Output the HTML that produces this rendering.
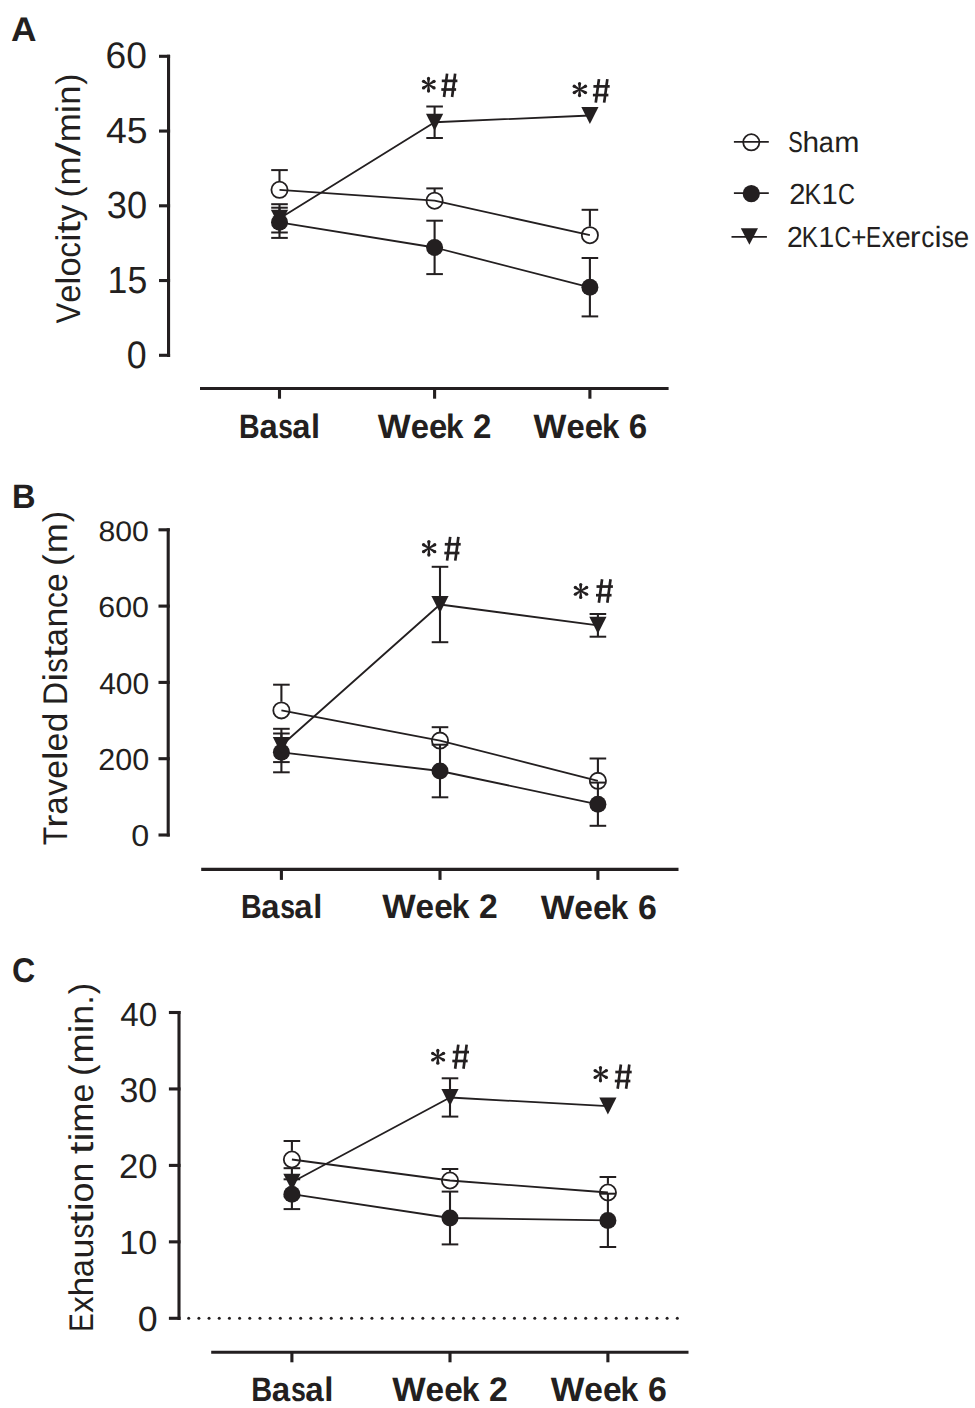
<!DOCTYPE html>
<html><head><meta charset="utf-8"><title>Figure</title>
<style>
html,body{margin:0;padding:0;background:#fff;}
body{width:975px;height:1408px;overflow:hidden;}
svg{display:block;}
text{font-family:"Liberation Sans",sans-serif;font-size:100px;fill:#231f20;stroke:none;font-kerning:none;text-rendering:geometricPrecision;}
</style></head>
<body>
<svg width="975" height="1408" viewBox="0 0 975 1408" stroke="#231f20" fill="none">
<rect x="0" y="0" width="975" height="1408" fill="#fff" stroke="none"/>
<text transform="matrix(0.35326 0 0 0.34158 11.12 40.80)" font-weight="bold">A</text>
<text transform="matrix(0.32630 0 0 0.34012 12.12 507.60)" font-weight="bold">B</text>
<text transform="matrix(0.32119 0 0 0.34322 11.88 981.96)" font-weight="bold">C</text>
<line x1="168.55" y1="54.70" x2="168.55" y2="356.90" stroke-width="3.10"/>
<line x1="159.00" y1="56.30" x2="170.10" y2="56.30" stroke-width="3.10"/>
<line x1="159.00" y1="131.05" x2="170.10" y2="131.05" stroke-width="3.10"/>
<line x1="159.00" y1="205.80" x2="170.10" y2="205.80" stroke-width="3.10"/>
<line x1="159.00" y1="280.55" x2="170.10" y2="280.55" stroke-width="3.10"/>
<line x1="159.00" y1="355.30" x2="170.10" y2="355.30" stroke-width="3.10"/>
<text transform="matrix(0.37165 0 0 0.37005 105.61 68.44)">60</text>
<text transform="matrix(0.37427 0 0 0.36546 105.94 143.04)">45</text>
<text transform="matrix(0.36226 0 0 0.37853 106.82 217.93)">30</text>
<text transform="matrix(0.35609 0 0 0.37836 107.59 292.53)">15</text>
<text transform="matrix(0.35772 0 0 0.38135 126.80 368.13)">0</text>
<text transform="matrix(0 -0.30956 0.34158 0 80.10 323.54)">V</text><text transform="matrix(0 -0.32607 0.34158 0 80.10 302.86)">e</text><text transform="matrix(0 -0.37699 0.34158 0 80.10 284.76)">l</text><text transform="matrix(0 -0.34506 0.34158 0 80.10 276.38)">o</text><text transform="matrix(0 -0.30807 0.34158 0 80.10 257.44)">c</text><text transform="matrix(0 -0.37699 0.34158 0 80.10 241.78)">i</text><text transform="matrix(0 -0.43908 0.34158 0 80.10 233.58)">t</text><text transform="matrix(0 -0.32992 0.34158 0 80.10 221.22)">y</text><text transform="matrix(0 -0.33134 0.34158 0 80.10 197.41)">(</text><text transform="matrix(0 -0.34928 0.34158 0 80.10 185.46)">m</text><text transform="matrix(0 -0.50592 0.34158 0 80.10 156.35)">/</text><text transform="matrix(0 -0.34928 0.34158 0 80.10 142.31)">m</text><text transform="matrix(0 -0.37699 0.34158 0 80.10 113.19)">i</text><text transform="matrix(0 -0.34375 0.34158 0 80.10 104.85)">n</text><text transform="matrix(0 -0.33134 0.34158 0 80.10 84.78)">)</text>
<line x1="200.00" y1="388.50" x2="668.60" y2="388.50" stroke-width="3.10"/>
<line x1="279.50" y1="388.50" x2="279.50" y2="398.70" stroke-width="3.10"/>
<line x1="434.60" y1="388.50" x2="434.60" y2="398.70" stroke-width="3.10"/>
<line x1="589.90" y1="388.50" x2="589.90" y2="398.70" stroke-width="3.10"/>
<text transform="matrix(0.28571 0 0 0.34012 239.09 438.20)" font-weight="bold">B</text><text transform="matrix(0.32669 0 0 0.34012 259.45 438.20)" font-weight="bold">a</text><text transform="matrix(0.26387 0 0 0.34012 278.28 438.20)" font-weight="bold">s</text><text transform="matrix(0.32669 0 0 0.34012 292.29 438.20)" font-weight="bold">a</text><text transform="matrix(0.32566 0 0 0.34012 311.06 438.20)" font-weight="bold">l</text>
<text transform="matrix(0.34823 0 0 0.34012 377.87 437.90)" font-weight="bold">W</text><text transform="matrix(0.32811 0 0 0.34012 410.65 437.90)" font-weight="bold">e</text><text transform="matrix(0.32811 0 0 0.34012 428.90 437.90)" font-weight="bold">e</text><text transform="matrix(0.31311 0 0 0.34012 446.12 437.90)" font-weight="bold">k</text><text transform="matrix(0.33072 0 0 0.34012 472.93 437.90)" font-weight="bold">2</text>
<text transform="matrix(0.34876 0 0 0.34012 533.57 438.00)" font-weight="bold">W</text><text transform="matrix(0.32860 0 0 0.34012 566.40 438.00)" font-weight="bold">e</text><text transform="matrix(0.32860 0 0 0.34012 584.68 438.00)" font-weight="bold">e</text><text transform="matrix(0.31358 0 0 0.34012 601.92 438.00)" font-weight="bold">k</text><text transform="matrix(0.33121 0 0 0.34012 628.68 438.00)" font-weight="bold">6</text>
<line x1="279.50" y1="181.10" x2="279.50" y2="170.10" stroke-width="2.10"/>
<line x1="271.20" y1="170.10" x2="287.80" y2="170.10" stroke-width="2.00"/>
<line x1="434.60" y1="192.00" x2="434.60" y2="188.40" stroke-width="2.10"/>
<line x1="426.30" y1="188.40" x2="442.90" y2="188.40" stroke-width="2.00"/>
<line x1="589.90" y1="226.50" x2="589.90" y2="209.80" stroke-width="2.10"/>
<line x1="581.60" y1="209.80" x2="598.20" y2="209.80" stroke-width="2.00"/>
<line x1="279.50" y1="222.30" x2="279.50" y2="207.70" stroke-width="2.10"/>
<line x1="271.20" y1="207.70" x2="287.80" y2="207.70" stroke-width="2.00"/>
<line x1="279.50" y1="222.30" x2="279.50" y2="237.90" stroke-width="2.10"/>
<line x1="271.20" y1="237.90" x2="287.80" y2="237.90" stroke-width="2.00"/>
<line x1="434.60" y1="247.50" x2="434.60" y2="220.70" stroke-width="2.10"/>
<line x1="426.30" y1="220.70" x2="442.90" y2="220.70" stroke-width="2.00"/>
<line x1="434.60" y1="247.50" x2="434.60" y2="274.10" stroke-width="2.10"/>
<line x1="426.30" y1="274.10" x2="442.90" y2="274.10" stroke-width="2.00"/>
<line x1="589.90" y1="287.30" x2="589.90" y2="258.00" stroke-width="2.10"/>
<line x1="581.60" y1="258.00" x2="598.20" y2="258.00" stroke-width="2.00"/>
<line x1="589.90" y1="287.30" x2="589.90" y2="316.40" stroke-width="2.10"/>
<line x1="581.60" y1="316.40" x2="598.20" y2="316.40" stroke-width="2.00"/>
<line x1="279.50" y1="218.40" x2="279.50" y2="204.20" stroke-width="2.10"/>
<line x1="271.20" y1="204.20" x2="287.80" y2="204.20" stroke-width="2.00"/>
<line x1="279.50" y1="218.40" x2="279.50" y2="232.50" stroke-width="2.10"/>
<line x1="271.20" y1="232.50" x2="287.80" y2="232.50" stroke-width="2.00"/>
<line x1="434.60" y1="122.25" x2="434.60" y2="106.50" stroke-width="2.10"/>
<line x1="426.30" y1="106.50" x2="442.90" y2="106.50" stroke-width="2.00"/>
<line x1="434.60" y1="122.25" x2="434.60" y2="138.00" stroke-width="2.10"/>
<line x1="426.30" y1="138.00" x2="442.90" y2="138.00" stroke-width="2.00"/>
<polyline points="279.50,189.80 434.60,200.70 589.90,235.20" fill="none" stroke-width="1.80" stroke-linejoin="round"/>
<polyline points="279.50,222.30 434.60,247.50 589.90,287.30" fill="none" stroke-width="1.80" stroke-linejoin="round"/>
<polyline points="279.50,218.40 434.60,122.25 589.90,115.50" fill="none" stroke-width="1.80" stroke-linejoin="round"/>
<circle cx="279.50" cy="189.80" r="8.10" fill="none" stroke-width="1.80"/>
<circle cx="434.60" cy="200.70" r="8.10" fill="none" stroke-width="1.80"/>
<circle cx="589.90" cy="235.20" r="8.10" fill="none" stroke-width="1.80"/>
<circle cx="279.50" cy="222.30" r="8.50" fill="#231f20" stroke="none"/>
<circle cx="434.60" cy="247.50" r="8.50" fill="#231f20" stroke="none"/>
<circle cx="589.90" cy="287.30" r="8.50" fill="#231f20" stroke="none"/>
<polygon points="270.90,209.80 288.10,209.80 279.50,226.80" fill="#231f20" stroke="none"/>
<polygon points="426.00,113.65 443.20,113.65 434.60,130.65" fill="#231f20" stroke="none"/>
<polygon points="581.30,106.90 598.50,106.90 589.90,123.90" fill="#231f20" stroke="none"/>
<polygon points="429.27,84.60 430.02,78.40 427.02,78.40 427.77,84.60" fill="#231f20" stroke="none"/><circle cx="428.52" cy="78.40" r="1.60" fill="#231f20" stroke="none"/><polygon points="427.77,84.60 427.02,91.10 430.02,91.10 429.27,84.60" fill="#231f20" stroke="none"/><circle cx="428.52" cy="91.10" r="1.60" fill="#231f20" stroke="none"/><polygon points="428.94,83.97 424.33,80.03 422.67,82.53 428.11,85.22" fill="#231f20" stroke="none"/><circle cx="423.50" cy="81.28" r="1.60" fill="#231f20" stroke="none"/><polygon points="428.14,85.24 433.33,89.21 434.87,86.63 428.91,83.95" fill="#231f20" stroke="none"/><circle cx="434.10" cy="87.92" r="1.60" fill="#231f20" stroke="none"/><polygon points="428.91,85.24 434.87,82.57 433.33,79.99 428.14,83.95" fill="#231f20" stroke="none"/><circle cx="434.10" cy="81.28" r="1.60" fill="#231f20" stroke="none"/><polygon points="428.11,83.97 422.67,86.67 424.33,89.17 428.94,85.22" fill="#231f20" stroke="none"/><circle cx="423.50" cy="87.92" r="1.60" fill="#231f20" stroke="none"/>
<line x1="447.10" y1="73.60" x2="444.04" y2="97.00" stroke-width="2.70"/><line x1="455.15" y1="73.60" x2="452.09" y2="97.00" stroke-width="2.70"/><line x1="441.78" y1="80.85" x2="457.40" y2="80.85" stroke-width="2.70"/><line x1="441.30" y1="89.51" x2="456.11" y2="89.51" stroke-width="2.70"/>
<polygon points="580.31,89.41 581.06,83.50 578.06,83.50 578.81,89.41" fill="#231f20" stroke="none"/><circle cx="579.56" cy="83.50" r="1.60" fill="#231f20" stroke="none"/><polygon points="578.81,89.41 578.06,95.60 581.06,95.60 580.31,89.41" fill="#231f20" stroke="none"/><circle cx="579.56" cy="95.60" r="1.60" fill="#231f20" stroke="none"/><polygon points="579.94,88.76 574.97,84.93 573.43,87.50 579.18,90.05" fill="#231f20" stroke="none"/><circle cx="574.20" cy="86.22" r="1.60" fill="#231f20" stroke="none"/><polygon points="579.21,90.07 584.79,93.92 586.21,91.27 579.91,88.74" fill="#231f20" stroke="none"/><circle cx="585.50" cy="92.59" r="1.60" fill="#231f20" stroke="none"/><polygon points="579.91,90.07 586.21,87.54 584.79,84.89 579.21,88.74" fill="#231f20" stroke="none"/><circle cx="585.50" cy="86.22" r="1.60" fill="#231f20" stroke="none"/><polygon points="579.18,88.76 573.43,91.31 574.97,93.88 579.94,90.05" fill="#231f20" stroke="none"/><circle cx="574.20" cy="92.59" r="1.60" fill="#231f20" stroke="none"/>
<line x1="598.95" y1="79.10" x2="595.76" y2="102.60" stroke-width="2.70"/><line x1="607.35" y1="79.10" x2="604.16" y2="102.60" stroke-width="2.70"/><line x1="593.40" y1="86.38" x2="609.70" y2="86.38" stroke-width="2.70"/><line x1="592.90" y1="95.08" x2="608.36" y2="95.08" stroke-width="2.70"/>
<line x1="168.20" y1="528.20" x2="168.20" y2="836.60" stroke-width="3.10"/>
<line x1="158.50" y1="529.80" x2="169.75" y2="529.80" stroke-width="3.10"/>
<line x1="158.50" y1="606.10" x2="169.75" y2="606.10" stroke-width="3.10"/>
<line x1="158.50" y1="682.40" x2="169.75" y2="682.40" stroke-width="3.10"/>
<line x1="158.50" y1="758.70" x2="169.75" y2="758.70" stroke-width="3.10"/>
<line x1="158.50" y1="835.00" x2="169.75" y2="835.00" stroke-width="3.10"/>
<text transform="matrix(0.30140 0 0 0.28390 98.59 541.12)">800</text>
<text transform="matrix(0.30280 0 0 0.28954 98.36 617.42)">600</text>
<text transform="matrix(0.29942 0 0 0.30084 99.21 693.81)">400</text>
<text transform="matrix(0.30460 0 0 0.30508 98.37 769.70)">200</text>
<text transform="matrix(0.32216 0 0 0.30226 131.34 846.10)">0</text>
<text transform="matrix(0 -0.29949 0.34158 0 67.20 845.17)">T</text><text transform="matrix(0 -0.39369 0.34158 0 67.20 827.87)">r</text><text transform="matrix(0 -0.32354 0.34158 0 67.20 814.46)">a</text><text transform="matrix(0 -0.33959 0.34158 0 67.20 795.78)">v</text><text transform="matrix(0 -0.33637 0.34158 0 67.20 778.77)">e</text><text transform="matrix(0 -0.38889 0.34158 0 67.20 760.10)">l</text><text transform="matrix(0 -0.33637 0.34158 0 67.20 751.42)">e</text><text transform="matrix(0 -0.35461 0.34158 0 67.20 732.35)">d</text><text transform="matrix(0 -0.31991 0.34158 0 67.20 705.08)">D</text><text transform="matrix(0 -0.38889 0.34158 0 67.20 681.42)">i</text><text transform="matrix(0 -0.29376 0.34158 0 67.20 672.67)">s</text><text transform="matrix(0 -0.45295 0.34158 0 67.20 658.28)">t</text><text transform="matrix(0 -0.32354 0.34158 0 67.20 646.21)">a</text><text transform="matrix(0 -0.35461 0.34158 0 67.20 627.55)">n</text><text transform="matrix(0 -0.31780 0.34158 0 67.20 608.06)">c</text><text transform="matrix(0 -0.33637 0.34158 0 67.20 591.88)">e</text><text transform="matrix(0 -0.34180 0.34158 0 67.20 565.68)">(</text><text transform="matrix(0 -0.36031 0.34158 0 67.20 553.35)">m</text><text transform="matrix(0 -0.34180 0.34158 0 67.20 522.36)">)</text>
<line x1="201.20" y1="869.40" x2="678.50" y2="869.40" stroke-width="3.10"/>
<line x1="281.40" y1="869.40" x2="281.40" y2="879.90" stroke-width="3.10"/>
<line x1="440.00" y1="869.40" x2="440.00" y2="879.90" stroke-width="3.10"/>
<line x1="597.90" y1="869.40" x2="597.90" y2="879.90" stroke-width="3.10"/>
<text transform="matrix(0.28720 0 0 0.33431 240.88 918.20)" font-weight="bold">B</text><text transform="matrix(0.32839 0 0 0.33431 261.34 918.20)" font-weight="bold">a</text><text transform="matrix(0.26524 0 0 0.33431 280.27 918.20)" font-weight="bold">s</text><text transform="matrix(0.32839 0 0 0.33431 294.36 918.20)" font-weight="bold">a</text><text transform="matrix(0.32735 0 0 0.33431 313.22 918.20)" font-weight="bold">l</text>
<text transform="matrix(0.35476 0 0 0.34012 382.17 918.20)" font-weight="bold">W</text><text transform="matrix(0.33426 0 0 0.34012 415.57 918.20)" font-weight="bold">e</text><text transform="matrix(0.33426 0 0 0.34012 434.16 918.20)" font-weight="bold">e</text><text transform="matrix(0.31897 0 0 0.34012 451.70 918.20)" font-weight="bold">k</text><text transform="matrix(0.33692 0 0 0.34012 479.01 918.20)" font-weight="bold">2</text>
<text transform="matrix(0.35652 0 0 0.34012 540.67 918.60)" font-weight="bold">W</text><text transform="matrix(0.33592 0 0 0.34012 574.23 918.60)" font-weight="bold">e</text><text transform="matrix(0.33592 0 0 0.34012 592.92 918.60)" font-weight="bold">e</text><text transform="matrix(0.32056 0 0 0.34012 610.54 918.60)" font-weight="bold">k</text><text transform="matrix(0.33859 0 0 0.34012 637.89 918.60)" font-weight="bold">6</text>
<line x1="281.40" y1="701.70" x2="281.40" y2="684.70" stroke-width="2.10"/>
<line x1="273.10" y1="684.70" x2="289.70" y2="684.70" stroke-width="2.00"/>
<line x1="440.00" y1="731.90" x2="440.00" y2="727.20" stroke-width="2.10"/>
<line x1="431.70" y1="727.20" x2="448.30" y2="727.20" stroke-width="2.00"/>
<line x1="597.90" y1="772.15" x2="597.90" y2="758.50" stroke-width="2.10"/>
<line x1="589.60" y1="758.50" x2="606.20" y2="758.50" stroke-width="2.00"/>
<line x1="281.40" y1="752.30" x2="281.40" y2="733.50" stroke-width="2.10"/>
<line x1="273.10" y1="733.50" x2="289.70" y2="733.50" stroke-width="2.00"/>
<line x1="281.40" y1="752.30" x2="281.40" y2="772.30" stroke-width="2.10"/>
<line x1="273.10" y1="772.30" x2="289.70" y2="772.30" stroke-width="2.00"/>
<line x1="440.00" y1="771.00" x2="440.00" y2="744.70" stroke-width="2.10"/>
<line x1="431.70" y1="744.70" x2="448.30" y2="744.70" stroke-width="2.00"/>
<line x1="440.00" y1="771.00" x2="440.00" y2="797.30" stroke-width="2.10"/>
<line x1="431.70" y1="797.30" x2="448.30" y2="797.30" stroke-width="2.00"/>
<line x1="597.90" y1="804.30" x2="597.90" y2="782.60" stroke-width="2.10"/>
<line x1="589.60" y1="782.60" x2="606.20" y2="782.60" stroke-width="2.00"/>
<line x1="597.90" y1="804.30" x2="597.90" y2="825.80" stroke-width="2.10"/>
<line x1="589.60" y1="825.80" x2="606.20" y2="825.80" stroke-width="2.00"/>
<line x1="281.40" y1="745.50" x2="281.40" y2="728.80" stroke-width="2.10"/>
<line x1="273.10" y1="728.80" x2="289.70" y2="728.80" stroke-width="2.00"/>
<line x1="281.40" y1="745.50" x2="281.40" y2="762.10" stroke-width="2.10"/>
<line x1="273.10" y1="762.10" x2="289.70" y2="762.10" stroke-width="2.00"/>
<line x1="440.00" y1="604.50" x2="440.00" y2="566.80" stroke-width="2.10"/>
<line x1="431.70" y1="566.80" x2="448.30" y2="566.80" stroke-width="2.00"/>
<line x1="440.00" y1="604.50" x2="440.00" y2="642.20" stroke-width="2.10"/>
<line x1="431.70" y1="642.20" x2="448.30" y2="642.20" stroke-width="2.00"/>
<line x1="597.90" y1="625.35" x2="597.90" y2="614.00" stroke-width="2.10"/>
<line x1="589.60" y1="614.00" x2="606.20" y2="614.00" stroke-width="2.00"/>
<line x1="597.90" y1="625.35" x2="597.90" y2="636.70" stroke-width="2.10"/>
<line x1="589.60" y1="636.70" x2="606.20" y2="636.70" stroke-width="2.00"/>
<polyline points="281.40,710.40 440.00,740.60 597.90,780.85" fill="none" stroke-width="1.80" stroke-linejoin="round"/>
<polyline points="281.40,752.30 440.00,771.00 597.90,804.30" fill="none" stroke-width="1.80" stroke-linejoin="round"/>
<polyline points="281.40,745.50 440.00,604.50 597.90,625.35" fill="none" stroke-width="1.80" stroke-linejoin="round"/>
<circle cx="281.40" cy="710.40" r="8.10" fill="none" stroke-width="1.80"/>
<circle cx="440.00" cy="740.60" r="8.10" fill="none" stroke-width="1.80"/>
<circle cx="597.90" cy="780.85" r="8.10" fill="none" stroke-width="1.80"/>
<circle cx="281.40" cy="752.30" r="8.50" fill="#231f20" stroke="none"/>
<circle cx="440.00" cy="771.00" r="8.50" fill="#231f20" stroke="none"/>
<circle cx="597.90" cy="804.30" r="8.50" fill="#231f20" stroke="none"/>
<polygon points="272.80,736.90 290.00,736.90 281.40,753.90" fill="#231f20" stroke="none"/>
<polygon points="431.40,595.90 448.60,595.90 440.00,612.90" fill="#231f20" stroke="none"/>
<polygon points="589.30,616.75 606.50,616.75 597.90,633.75" fill="#231f20" stroke="none"/>
<polygon points="429.61,548.19 430.36,541.60 427.36,541.60 428.11,548.19" fill="#231f20" stroke="none"/><circle cx="428.86" cy="541.60" r="1.60" fill="#231f20" stroke="none"/><polygon points="428.11,548.19 427.36,555.10 430.36,555.10 429.61,548.19" fill="#231f20" stroke="none"/><circle cx="428.86" cy="555.10" r="1.60" fill="#231f20" stroke="none"/><polygon points="429.27,547.56 424.32,543.44 422.68,545.95 428.45,548.82" fill="#231f20" stroke="none"/><circle cx="423.50" cy="544.69" r="1.60" fill="#231f20" stroke="none"/><polygon points="428.48,548.84 434.04,552.98 435.56,550.40 429.24,547.54" fill="#231f20" stroke="none"/><circle cx="434.80" cy="551.69" r="1.60" fill="#231f20" stroke="none"/><polygon points="429.24,548.84 435.56,545.99 434.04,543.40 428.48,547.54" fill="#231f20" stroke="none"/><circle cx="434.80" cy="544.69" r="1.60" fill="#231f20" stroke="none"/><polygon points="428.45,547.56 422.68,550.43 424.32,552.95 429.27,548.82" fill="#231f20" stroke="none"/><circle cx="423.50" cy="551.69" r="1.60" fill="#231f20" stroke="none"/>
<line x1="450.20" y1="536.90" x2="447.09" y2="560.60" stroke-width="2.70"/><line x1="458.40" y1="536.90" x2="455.29" y2="560.60" stroke-width="2.70"/><line x1="444.79" y1="544.25" x2="460.70" y2="544.25" stroke-width="2.70"/><line x1="444.30" y1="553.02" x2="459.39" y2="553.02" stroke-width="2.70"/>
<polygon points="581.46,590.85 582.21,584.50 579.21,584.50 579.96,590.85" fill="#231f20" stroke="none"/><circle cx="580.71" cy="584.50" r="1.60" fill="#231f20" stroke="none"/><polygon points="579.96,590.85 579.21,597.50 582.21,597.50 581.46,590.85" fill="#231f20" stroke="none"/><circle cx="580.71" cy="597.50" r="1.60" fill="#231f20" stroke="none"/><polygon points="581.11,590.21 576.10,586.19 574.50,588.73 580.31,591.48" fill="#231f20" stroke="none"/><circle cx="575.30" cy="587.46" r="1.60" fill="#231f20" stroke="none"/><polygon points="580.34,591.50 585.96,595.54 587.44,592.93 581.08,590.19" fill="#231f20" stroke="none"/><circle cx="586.70" cy="594.23" r="1.60" fill="#231f20" stroke="none"/><polygon points="581.08,591.50 587.44,588.76 585.96,586.15 580.34,590.19" fill="#231f20" stroke="none"/><circle cx="586.70" cy="587.46" r="1.60" fill="#231f20" stroke="none"/><polygon points="580.31,590.21 574.50,592.96 576.10,595.51 581.11,591.48" fill="#231f20" stroke="none"/><circle cx="575.30" cy="594.23" r="1.60" fill="#231f20" stroke="none"/>
<line x1="602.08" y1="579.30" x2="598.87" y2="602.70" stroke-width="2.70"/><line x1="610.53" y1="579.30" x2="607.32" y2="602.70" stroke-width="2.70"/><line x1="596.51" y1="586.55" x2="612.90" y2="586.55" stroke-width="2.70"/><line x1="596.00" y1="595.21" x2="611.55" y2="595.21" stroke-width="2.70"/>
<line x1="179.00" y1="1010.90" x2="179.00" y2="1319.90" stroke-width="3.10"/>
<line x1="168.90" y1="1012.50" x2="180.55" y2="1012.50" stroke-width="3.10"/>
<line x1="168.90" y1="1088.95" x2="180.55" y2="1088.95" stroke-width="3.10"/>
<line x1="168.90" y1="1165.40" x2="180.55" y2="1165.40" stroke-width="3.10"/>
<line x1="168.90" y1="1241.85" x2="180.55" y2="1241.85" stroke-width="3.10"/>
<line x1="168.90" y1="1318.30" x2="180.55" y2="1318.30" stroke-width="3.10"/>
<text transform="matrix(0.33229 0 0 0.33333 120.24 1025.57)">40</text>
<text transform="matrix(0.33908 0 0 0.34322 119.51 1102.06)">30</text>
<text transform="matrix(0.34704 0 0 0.34180 118.95 1178.07)">20</text>
<text transform="matrix(0.34100 0 0 0.33333 119.30 1253.87)">10</text>
<text transform="matrix(0.35772 0 0 0.35028 137.70 1330.66)">0</text>
<text transform="matrix(0 -0.27691 0.34158 0 93.00 1331.87)">E</text><text transform="matrix(0 -0.32777 0.34158 0 93.00 1312.87)">x</text><text transform="matrix(0 -0.35728 0.34158 0 93.00 1296.55)">h</text><text transform="matrix(0 -0.32598 0.34158 0 93.00 1277.29)">a</text><text transform="matrix(0 -0.35728 0.34158 0 93.00 1258.45)">u</text><text transform="matrix(0 -0.29597 0.34158 0 93.00 1238.48)">s</text><text transform="matrix(0 -0.45636 0.34158 0 93.00 1223.98)">t</text><text transform="matrix(0 -0.39183 0.34158 0 93.00 1211.11)">i</text><text transform="matrix(0 -0.35864 0.34158 0 93.00 1202.42)">o</text><text transform="matrix(0 -0.35728 0.34158 0 93.00 1182.50)">n</text><text transform="matrix(0 -0.45636 0.34158 0 93.00 1154.23)">t</text><text transform="matrix(0 -0.39183 0.34158 0 93.00 1141.36)">i</text><text transform="matrix(0 -0.36303 0.34158 0 93.00 1132.67)">m</text><text transform="matrix(0 -0.33891 0.34158 0 93.00 1102.39)">e</text><text transform="matrix(0 -0.34438 0.34158 0 93.00 1075.99)">(</text><text transform="matrix(0 -0.36303 0.34158 0 93.00 1063.56)">m</text><text transform="matrix(0 -0.39183 0.34158 0 93.00 1033.30)">i</text><text transform="matrix(0 -0.35728 0.34158 0 93.00 1024.63)">n</text><text transform="matrix(0 -0.34329 0.34158 0 93.00 1004.74)">.</text><text transform="matrix(0 -0.34438 0.34158 0 93.00 994.23)">)</text>
<line x1="211.20" y1="1352.30" x2="688.50" y2="1352.30" stroke-width="3.10"/>
<line x1="291.90" y1="1352.30" x2="291.90" y2="1362.30" stroke-width="3.10"/>
<line x1="450.00" y1="1352.30" x2="450.00" y2="1362.30" stroke-width="3.10"/>
<line x1="607.90" y1="1352.30" x2="607.90" y2="1362.30" stroke-width="3.10"/>
<text transform="matrix(0.28981 0 0 0.34012 251.16 1401.10)" font-weight="bold">B</text><text transform="matrix(0.33137 0 0 0.34012 271.81 1401.10)" font-weight="bold">a</text><text transform="matrix(0.26765 0 0 0.34012 290.91 1401.10)" font-weight="bold">s</text><text transform="matrix(0.33137 0 0 0.34012 305.13 1401.10)" font-weight="bold">a</text><text transform="matrix(0.33032 0 0 0.34012 324.16 1401.10)" font-weight="bold">l</text>
<text transform="matrix(0.35476 0 0 0.34012 392.17 1401.10)" font-weight="bold">W</text><text transform="matrix(0.33426 0 0 0.34012 425.57 1401.10)" font-weight="bold">e</text><text transform="matrix(0.33426 0 0 0.34012 444.16 1401.10)" font-weight="bold">e</text><text transform="matrix(0.31897 0 0 0.34012 461.70 1401.10)" font-weight="bold">k</text><text transform="matrix(0.33692 0 0 0.34012 489.01 1401.10)" font-weight="bold">2</text>
<text transform="matrix(0.35652 0 0 0.34012 550.67 1400.60)" font-weight="bold">W</text><text transform="matrix(0.33592 0 0 0.34012 584.23 1400.60)" font-weight="bold">e</text><text transform="matrix(0.33592 0 0 0.34012 602.92 1400.60)" font-weight="bold">e</text><text transform="matrix(0.32056 0 0 0.34012 620.54 1400.60)" font-weight="bold">k</text><text transform="matrix(0.33859 0 0 0.34012 647.89 1400.60)" font-weight="bold">6</text>
<line x1="291.90" y1="1150.80" x2="291.90" y2="1141.00" stroke-width="2.10"/>
<line x1="283.60" y1="1141.00" x2="300.20" y2="1141.00" stroke-width="2.00"/>
<line x1="450.00" y1="1171.80" x2="450.00" y2="1169.00" stroke-width="2.10"/>
<line x1="441.70" y1="1169.00" x2="458.30" y2="1169.00" stroke-width="2.00"/>
<line x1="607.90" y1="1183.80" x2="607.90" y2="1177.00" stroke-width="2.10"/>
<line x1="599.60" y1="1177.00" x2="616.20" y2="1177.00" stroke-width="2.00"/>
<line x1="291.90" y1="1194.20" x2="291.90" y2="1179.30" stroke-width="2.10"/>
<line x1="283.60" y1="1179.30" x2="300.20" y2="1179.30" stroke-width="2.00"/>
<line x1="291.90" y1="1194.20" x2="291.90" y2="1209.10" stroke-width="2.10"/>
<line x1="283.60" y1="1209.10" x2="300.20" y2="1209.10" stroke-width="2.00"/>
<line x1="450.00" y1="1218.00" x2="450.00" y2="1191.60" stroke-width="2.10"/>
<line x1="441.70" y1="1191.60" x2="458.30" y2="1191.60" stroke-width="2.00"/>
<line x1="450.00" y1="1218.00" x2="450.00" y2="1244.40" stroke-width="2.10"/>
<line x1="441.70" y1="1244.40" x2="458.30" y2="1244.40" stroke-width="2.00"/>
<line x1="607.90" y1="1220.40" x2="607.90" y2="1193.70" stroke-width="2.10"/>
<line x1="599.60" y1="1193.70" x2="616.20" y2="1193.70" stroke-width="2.00"/>
<line x1="607.90" y1="1220.40" x2="607.90" y2="1247.00" stroke-width="2.10"/>
<line x1="599.60" y1="1247.00" x2="616.20" y2="1247.00" stroke-width="2.00"/>
<line x1="291.90" y1="1182.30" x2="291.90" y2="1168.20" stroke-width="2.10"/>
<line x1="283.60" y1="1168.20" x2="300.20" y2="1168.20" stroke-width="2.00"/>
<line x1="291.90" y1="1182.30" x2="291.90" y2="1196.40" stroke-width="2.10"/>
<line x1="283.60" y1="1196.40" x2="300.20" y2="1196.40" stroke-width="2.00"/>
<line x1="450.00" y1="1097.50" x2="450.00" y2="1078.30" stroke-width="2.10"/>
<line x1="441.70" y1="1078.30" x2="458.30" y2="1078.30" stroke-width="2.00"/>
<line x1="450.00" y1="1097.50" x2="450.00" y2="1116.60" stroke-width="2.10"/>
<line x1="441.70" y1="1116.60" x2="458.30" y2="1116.60" stroke-width="2.00"/>
<polyline points="291.90,1159.50 450.00,1180.50 607.90,1192.50" fill="none" stroke-width="1.80" stroke-linejoin="round"/>
<polyline points="291.90,1194.20 450.00,1218.00 607.90,1220.40" fill="none" stroke-width="1.80" stroke-linejoin="round"/>
<polyline points="291.90,1182.30 450.00,1097.50 607.90,1106.20" fill="none" stroke-width="1.80" stroke-linejoin="round"/>
<circle cx="291.90" cy="1159.50" r="8.10" fill="none" stroke-width="1.80"/>
<circle cx="450.00" cy="1180.50" r="8.10" fill="none" stroke-width="1.80"/>
<circle cx="607.90" cy="1192.50" r="8.10" fill="none" stroke-width="1.80"/>
<circle cx="291.90" cy="1194.20" r="8.50" fill="#231f20" stroke="none"/>
<circle cx="450.00" cy="1218.00" r="8.50" fill="#231f20" stroke="none"/>
<circle cx="607.90" cy="1220.40" r="8.50" fill="#231f20" stroke="none"/>
<polygon points="283.30,1173.70 300.50,1173.70 291.90,1190.70" fill="#231f20" stroke="none"/>
<polygon points="441.40,1088.90 458.60,1088.90 450.00,1105.90" fill="#231f20" stroke="none"/>
<polygon points="599.30,1097.60 616.50,1097.60 607.90,1114.60" fill="#231f20" stroke="none"/>
<polygon points="438.57,1056.65 439.32,1050.40 436.32,1050.40 437.07,1056.65" fill="#231f20" stroke="none"/><circle cx="437.82" cy="1050.40" r="1.60" fill="#231f20" stroke="none"/><polygon points="437.07,1056.65 436.32,1063.20 439.32,1063.20 438.57,1056.65" fill="#231f20" stroke="none"/><circle cx="437.82" cy="1063.20" r="1.60" fill="#231f20" stroke="none"/><polygon points="438.22,1056.02 433.41,1052.04 431.79,1054.57 437.41,1057.28" fill="#231f20" stroke="none"/><circle cx="432.60" cy="1053.30" r="1.60" fill="#231f20" stroke="none"/><polygon points="437.44,1057.30 442.85,1061.29 444.35,1058.69 438.19,1056.00" fill="#231f20" stroke="none"/><circle cx="443.60" cy="1059.99" r="1.60" fill="#231f20" stroke="none"/><polygon points="438.19,1057.30 444.35,1054.60 442.85,1052.01 437.44,1056.00" fill="#231f20" stroke="none"/><circle cx="443.60" cy="1053.30" r="1.60" fill="#231f20" stroke="none"/><polygon points="437.41,1056.02 431.79,1058.73 433.41,1061.25 438.22,1057.28" fill="#231f20" stroke="none"/><circle cx="432.60" cy="1059.99" r="1.60" fill="#231f20" stroke="none"/>
<line x1="458.31" y1="1044.60" x2="455.14" y2="1068.70" stroke-width="2.70"/><line x1="466.66" y1="1044.60" x2="463.49" y2="1068.70" stroke-width="2.70"/><line x1="452.80" y1="1052.07" x2="469.00" y2="1052.07" stroke-width="2.70"/><line x1="452.30" y1="1060.99" x2="467.66" y2="1060.99" stroke-width="2.70"/>
<polygon points="601.21,1073.99 601.96,1067.50 598.96,1067.50 599.71,1073.99" fill="#231f20" stroke="none"/><circle cx="600.46" cy="1067.50" r="1.60" fill="#231f20" stroke="none"/><polygon points="599.71,1073.99 598.96,1080.80 601.96,1080.80 601.21,1073.99" fill="#231f20" stroke="none"/><circle cx="600.46" cy="1080.80" r="1.60" fill="#231f20" stroke="none"/><polygon points="600.87,1073.36 595.91,1069.28 594.29,1071.80 600.05,1074.62" fill="#231f20" stroke="none"/><circle cx="595.10" cy="1070.54" r="1.60" fill="#231f20" stroke="none"/><polygon points="600.08,1074.64 605.65,1078.74 607.15,1076.15 600.84,1073.34" fill="#231f20" stroke="none"/><circle cx="606.40" cy="1077.45" r="1.60" fill="#231f20" stroke="none"/><polygon points="600.84,1074.64 607.15,1071.84 605.65,1069.24 600.08,1073.34" fill="#231f20" stroke="none"/><circle cx="606.40" cy="1070.54" r="1.60" fill="#231f20" stroke="none"/><polygon points="600.05,1073.36 594.29,1076.19 595.91,1078.71 600.87,1074.62" fill="#231f20" stroke="none"/><circle cx="595.10" cy="1077.45" r="1.60" fill="#231f20" stroke="none"/>
<line x1="620.88" y1="1064.50" x2="617.67" y2="1088.80" stroke-width="2.70"/><line x1="629.33" y1="1064.50" x2="626.12" y2="1088.80" stroke-width="2.70"/><line x1="615.31" y1="1072.03" x2="631.70" y2="1072.03" stroke-width="2.70"/><line x1="614.80" y1="1081.02" x2="630.35" y2="1081.02" stroke-width="2.70"/>
<g fill="#231f20" stroke="none"><circle cx="188.70" cy="1318.3" r="1.5"/><circle cx="198.88" cy="1318.3" r="1.5"/><circle cx="209.06" cy="1318.3" r="1.5"/><circle cx="219.24" cy="1318.3" r="1.5"/><circle cx="229.42" cy="1318.3" r="1.5"/><circle cx="239.60" cy="1318.3" r="1.5"/><circle cx="249.77" cy="1318.3" r="1.5"/><circle cx="259.95" cy="1318.3" r="1.5"/><circle cx="270.13" cy="1318.3" r="1.5"/><circle cx="280.31" cy="1318.3" r="1.5"/><circle cx="290.49" cy="1318.3" r="1.5"/><circle cx="300.67" cy="1318.3" r="1.5"/><circle cx="310.85" cy="1318.3" r="1.5"/><circle cx="321.03" cy="1318.3" r="1.5"/><circle cx="331.21" cy="1318.3" r="1.5"/><circle cx="341.39" cy="1318.3" r="1.5"/><circle cx="351.57" cy="1318.3" r="1.5"/><circle cx="361.75" cy="1318.3" r="1.5"/><circle cx="371.92" cy="1318.3" r="1.5"/><circle cx="382.10" cy="1318.3" r="1.5"/><circle cx="392.28" cy="1318.3" r="1.5"/><circle cx="402.46" cy="1318.3" r="1.5"/><circle cx="412.64" cy="1318.3" r="1.5"/><circle cx="422.82" cy="1318.3" r="1.5"/><circle cx="433.00" cy="1318.3" r="1.5"/><circle cx="443.18" cy="1318.3" r="1.5"/><circle cx="453.36" cy="1318.3" r="1.5"/><circle cx="463.54" cy="1318.3" r="1.5"/><circle cx="473.72" cy="1318.3" r="1.5"/><circle cx="483.90" cy="1318.3" r="1.5"/><circle cx="494.07" cy="1318.3" r="1.5"/><circle cx="504.25" cy="1318.3" r="1.5"/><circle cx="514.43" cy="1318.3" r="1.5"/><circle cx="524.61" cy="1318.3" r="1.5"/><circle cx="534.79" cy="1318.3" r="1.5"/><circle cx="544.97" cy="1318.3" r="1.5"/><circle cx="555.15" cy="1318.3" r="1.5"/><circle cx="565.33" cy="1318.3" r="1.5"/><circle cx="575.51" cy="1318.3" r="1.5"/><circle cx="585.69" cy="1318.3" r="1.5"/><circle cx="595.87" cy="1318.3" r="1.5"/><circle cx="606.05" cy="1318.3" r="1.5"/><circle cx="616.22" cy="1318.3" r="1.5"/><circle cx="626.40" cy="1318.3" r="1.5"/><circle cx="636.58" cy="1318.3" r="1.5"/><circle cx="646.76" cy="1318.3" r="1.5"/><circle cx="656.94" cy="1318.3" r="1.5"/><circle cx="667.12" cy="1318.3" r="1.5"/><circle cx="677.30" cy="1318.3" r="1.5"/></g>
<line x1="733.90" y1="141.80" x2="768.80" y2="141.80" stroke-width="1.80"/>
<circle cx="751.30" cy="142.30" r="8.10" fill="none" stroke-width="1.80"/>
<text transform="matrix(0.21688 0 0 0.28925 788.22 152.30)">S</text><text transform="matrix(0.29751 0 0 0.28925 802.61 152.30)">h</text><text transform="matrix(0.27144 0 0 0.28925 818.65 152.30)">a</text><text transform="matrix(0.30230 0 0 0.28925 834.31 152.30)">m</text>
<line x1="733.90" y1="193.20" x2="768.80" y2="193.20" stroke-width="1.80"/>
<circle cx="751.30" cy="193.70" r="8.60" fill="#231f20" stroke="none"/>
<text transform="matrix(0.29068 0 0 0.29216 789.14 203.90)">2</text><text transform="matrix(0.24859 0 0 0.29216 804.42 203.90)">K</text><text transform="matrix(0.29068 0 0 0.29216 821.49 203.90)">1</text><text transform="matrix(0.23533 0 0 0.29216 837.90 203.90)">C</text>
<line x1="731.50" y1="236.80" x2="766.90" y2="236.80" stroke-width="1.80"/>
<polygon points="740.8,228.2 758.0,228.2 749.4,244.7" fill="#231f20" stroke="none"/>
<text transform="matrix(0.28276 0 0 0.29216 786.98 247.10)">2</text><text transform="matrix(0.24182 0 0 0.29216 801.85 247.10)">K</text><text transform="matrix(0.28276 0 0 0.29216 818.45 247.10)">1</text><text transform="matrix(0.22893 0 0 0.29216 834.41 247.10)">C</text><text transform="matrix(0.26451 0 0 0.29216 851.10 247.10)">+</text><text transform="matrix(0.22694 0 0 0.29216 866.10 247.10)">E</text><text transform="matrix(0.26861 0 0 0.29216 881.67 247.10)">x</text><text transform="matrix(0.27774 0 0 0.29216 895.13 247.10)">e</text><text transform="matrix(0.32507 0 0 0.29216 909.74 247.10)">r</text><text transform="matrix(0.26241 0 0 0.29216 921.17 247.10)">c</text><text transform="matrix(0.32111 0 0 0.29216 934.51 247.10)">i</text><text transform="matrix(0.24256 0 0 0.29216 941.73 247.10)">s</text><text transform="matrix(0.27774 0 0 0.29216 953.79 247.10)">e</text>
</svg>
</body></html>
